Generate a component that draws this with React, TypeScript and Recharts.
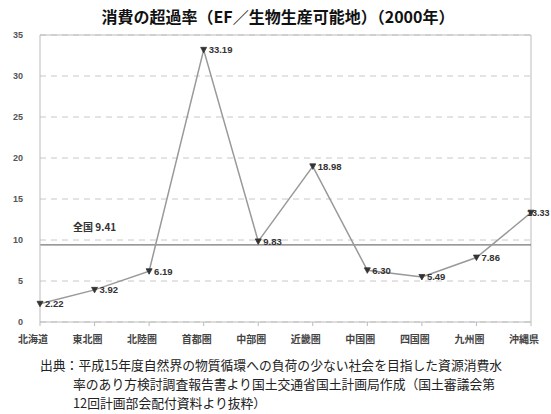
import React from "react";
import {
  LineChart,
  Line,
  XAxis,
  YAxis,
  CartesianGrid,
  ReferenceLine,
  LabelList,
} from "recharts";

const regions = ["北海道", "東北圏", "北陸圏", "首都圏", "中部圏", "近畿圏", "中国圏", "四国圏", "九州圏", "沖縄県"];
const rates = [2.22, 3.92, 6.19, 33.19, 9.83, 18.98, 6.3, 5.49, 7.86, 13.33];
const yTicks = [0, 5, 10, 15, 20, 25, 30, 35];
const nationalValue = 9.41;
const nationalLabel = "全国 9.41";
const title = "消費の超過率（EF／生物生産可能地）（2000年）";
const sourceLines = [
  "出典：平成15年度自然界の物質循環への負荷の少ない社会を目指した資源消費水",
  "率のあり方検討調査報告書より国土交通省国土計画局作成（国土審議会第",
  "12回計画部会配付資料より抜粋）",
];

const data = regions.map((r, i) => ({ region: r, rate: rates[i] }));

const FONT = "'Noto Sans CJK JP', 'Noto Sans', sans-serif";

const Marker = (props: any) => {
  const { cx, cy } = props;
  if (cx == null || cy == null) return null;
  return (
    <path
      d={`M${cx - 3},${cy - 2.5} L${cx + 3},${cy - 2.5} L${cx},${cy + 3} Z`}
      fill="#333"
      stroke="#333"
      strokeWidth={0.8}
    />
  );
};

const ValueLabel = (props: any) => {
  const { x, y, value, index } = props;
  const last = index === rates.length - 1;
  return (
    <text
      x={last ? x - 4 : x + 5}
      y={y}
      dy={3.5}
      fontSize={last ? 9 : 9.5}
      fontWeight="bold"
      fill="#333"
      fontFamily="Arial, 'Liberation Sans', sans-serif"
    >
      {Number(value).toFixed(2)}
    </text>
  );
};

const NationalLabel = (props: any) => {
  const { viewBox } = props;
  return (
    <text
      x={viewBox.x + 33}
      y={viewBox.y - 14}
      fontSize={10}
      fontWeight="bold"
      fill="#333"
      fontFamily={FONT}
    >
      {nationalLabel}
    </text>
  );
};

export default function App() {
  return (
    <div style={{ position: "absolute", left: 0, top: 0, width: 551, height: 414, background: "#fff", fontFamily: FONT }}>
      <div
        style={{
          position: "absolute",
          left: 0,
          top: 5,
          width: 556,
          textAlign: "center",
          fontSize: 16,
          fontWeight: "bold",
          color: "#111",
          lineHeight: "22px",
        }}
      >
        {title}
      </div>
      <LineChart
        width={551}
        height={414}
        data={data}
        margin={{ top: 35, right: 20, left: 0, bottom: 62 }}
      >
        <CartesianGrid vertical={false} stroke="#c8c8c8" strokeDasharray="6 5" />
        <XAxis
          dataKey="region"
          stroke="#bbb"
          tickSize={4}
          tickMargin={10}
          height={30}
          interval={0}
          tick={{ fontSize: 10, fontWeight: "bold", fill: "#444", dx: -7, fontFamily: FONT }}
        />
        <YAxis
          domain={[0, 35]}
          ticks={yTicks}
          width={40}
          stroke="#bbb"
          tickSize={0}
          tickMargin={17}
          tick={{ fontSize: 9, fontWeight: "bold", fill: "#555", fontFamily: "Arial, sans-serif" }}
        />
        <ReferenceLine y={35} stroke="#bbb" />
        <ReferenceLine x="沖縄県" stroke="#bbb" />
        <ReferenceLine y={nationalValue} stroke="#777" strokeWidth={1.2} label={<NationalLabel />} />
        <Line
          type="linear"
          dataKey="rate"
          stroke="#999"
          strokeWidth={1.5}
          dot={<Marker />}
          activeDot={false}
          isAnimationActive={false}
        >
          <LabelList dataKey="rate" content={<ValueLabel />} />
        </Line>
      </LineChart>
      <div style={{ position: "absolute", left: 40, top: 355, fontSize: 12.8, color: "#222", lineHeight: "19px" }}>
        {sourceLines[0]}
      </div>
      <div style={{ position: "absolute", left: 73, top: 374, fontSize: 12.8, color: "#222", lineHeight: "19px" }}>
        {sourceLines[1]}
      </div>
      <div style={{ position: "absolute", left: 73, top: 393, fontSize: 12.8, color: "#222", lineHeight: "19px" }}>
        {sourceLines[2]}
      </div>
    </div>
  );
}
